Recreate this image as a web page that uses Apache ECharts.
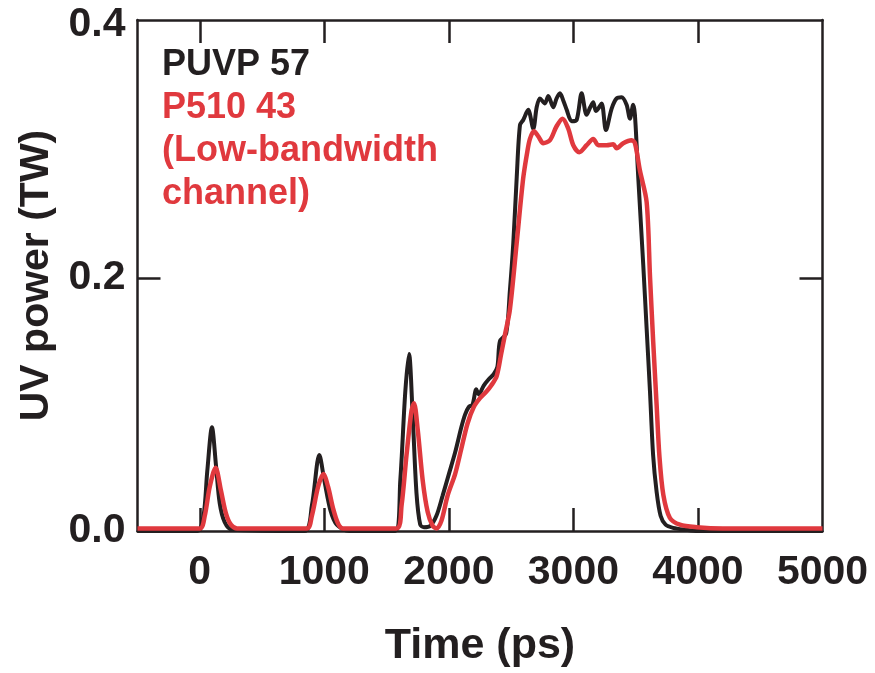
<!DOCTYPE html>
<html>
<head>
<meta charset="utf-8">
<script src="https://cdn.jsdelivr.net/npm/echarts@6/dist/echarts.min.js"></script>
<style>html,body{margin:0;padding:0;background:#fff}#c{width:875px;height:673px}</style>
</head>
<body>
<div id="c"></div>
<script>
// ---- data (time in ps, power in TW) ----
var puvpTime = [-500,-20,30,60,98,130,160,200,260,840,900,960,1000,1050,1100,1200,1570,1610,1650,1680,1710,1740,1770,1800,1850,1900,1950,2000,2050,2100,2130,2160,2190,2220,2240,2280,2320,2360,2390,2410,2460,2490,2517,2545,2571,2597,2637,2678,2705,2731,2771,2798,2838,2865,2892,2920,2946,2986,3026,3066,3106,3135,3159,3180,3200,3227,3261,3307,3347,3387,3427,3454,3480,3494,3521,3561,3588,3615,3640,3668,3700,3740,3800,3900,4000,5000];
var puvpPower = [0,0,0.012,0.047,0.082,0.052,0.022,0.007,0.001,0,0.02,0.06,0.04,0.016,0.005,0,0,0.04,0.11,0.14,0.09,0.03,0.005,0.003,0.004,0.012,0.028,0.045,0.062,0.082,0.092,0.098,0.1,0.112,0.108,0.115,0.12,0.124,0.13,0.15,0.156,0.19,0.227,0.28,0.321,0.325,0.333,0.318,0.335,0.342,0.338,0.344,0.335,0.342,0.346,0.34,0.333,0.324,0.325,0.346,0.329,0.335,0.339,0.332,0.334,0.338,0.317,0.334,0.342,0.343,0.337,0.326,0.337,0.329,0.279,0.21,0.16,0.11,0.06,0.031,0.012,0.005,0.0025,0.001,0,0];
var p510Time = [-500,0,40,80,127,170,210,250,300,860,900,950,992,1030,1070,1110,1150,1580,1620,1660,1700,1720,1750,1790,1830,1870,1902,1940,1990,2050,2100,2150,2200,2250,2300,2340,2384,2420,2450,2490,2544,2597,2630,2651,2683,2718,2758,2812,2865,2913,2959,2999,3047,3106,3159,3200,3267,3320,3347,3400,3467,3494,3534,3588,3615,3641,3668,3690,3722,3775,3855,3989,4200,5000];
var p510Power = [0.002,0.002,0.012,0.035,0.05,0.032,0.014,0.005,0.002,0.002,0.012,0.035,0.045,0.035,0.018,0.006,0.002,0.002,0.02,0.06,0.095,0.101,0.08,0.04,0.015,0.004,0.002,0.008,0.028,0.045,0.065,0.085,0.098,0.105,0.11,0.115,0.1225,0.14,0.155,0.175,0.227,0.279,0.3,0.31,0.316,0.312,0.3066,0.309,0.32,0.326,0.318,0.305,0.2995,0.305,0.31,0.305,0.305,0.3057,0.3026,0.3066,0.309,0.3066,0.285,0.26,0.201,0.149,0.1,0.06,0.0286,0.0103,0.005,0.003,0.002,0.002];
var xTicks = [0,1000,2000,3000,4000,5000];
var yTicks = [0.0,0.2,0.4];
var legendLines = ['PUVP 57','P510 43','(Low-bandwidth','channel)'];

var BLACK = '#231f20', RED = '#e0393e';
var FONT = '"Liberation Sans", Arial, Helvetica, sans-serif';

function pairs(t, v){ return t.map(function(x,i){ return [x, v[i]]; }); }

var chart = echarts.init(document.getElementById('c'), null, {renderer:'canvas'});
var axisLine = {show:true, onZero:false, lineStyle:{color:BLACK, width:2.5}};
function tick(vals){ return {show:true, inside:true, length:23, customValues:vals, lineStyle:{color:BLACK, width:2.5}}; }
var xTickVals = xTicks.slice(0, xTicks.length-1);
var yTickVals = yTicks.slice(0, yTicks.length-1);
var xLabel = {show:true, fontFamily:FONT, fontWeight:'bold', fontSize:41, color:BLACK, margin:21,
  customValues:xTicks, formatter:function(v){ return String(v); }};
var yLabel = {show:true, fontFamily:FONT, fontWeight:'bold', fontSize:41, color:BLACK, margin:12,
  customValues:yTicks, formatter:function(v){ return v.toFixed(1); }};

chart.setOption({
  animation:false,
  grid:{left:137.5, right:52.5, top:20, bottom:136.5, containLabel:false},
  xAxis:[
    {type:'value', min:-500, max:5000, position:'bottom',
     axisLine:axisLine, axisTick:tick(xTickVals), axisLabel:xLabel, splitLine:{show:false},
     name:'Time (ps)', nameLocation:'middle', nameGap:94,
     nameTextStyle:{fontFamily:FONT, fontWeight:'bold', fontSize:43, color:BLACK}},
    {type:'value', min:-500, max:5000, position:'top',
     axisLine:axisLine, axisTick:tick(xTickVals), axisLabel:{show:false}, splitLine:{show:false}}
  ],
  yAxis:[
    {type:'value', min:0, max:0.404, position:'left',
     axisLine:axisLine, axisTick:tick(yTickVals), axisLabel:yLabel, splitLine:{show:false},
     name:'UV power (TW)', nameLocation:'middle', nameGap:78, nameRotate:90,
     nameTextStyle:{fontFamily:FONT, fontWeight:'bold', fontSize:41, color:BLACK}},
    {type:'value', min:0, max:0.404, position:'right',
     axisLine:axisLine, axisTick:tick(yTickVals), axisLabel:{show:false}, splitLine:{show:false}}
  ],
  series:[
    {type:'line', name:'PUVP 57', data:pairs(puvpTime,puvpPower), showSymbol:false, smooth:0.3,
     lineStyle:{color:BLACK, width:4}, z:2},
    {type:'line', name:'P510 43', data:pairs(p510Time,p510Power), showSymbol:false, smooth:0.3,
     lineStyle:{color:RED, width:4.5}, z:3}
  ],
  graphic:[
    {type:'text', left:162, top:47.5, style:{text:legendLines[0], fill:BLACK, font:'bold 36px '+FONT}},
    {type:'text', left:162, top:90.5, style:{text:legendLines[1], fill:RED, font:'bold 36px '+FONT}},
    {type:'text', left:162, top:133.5, style:{text:legendLines[2], fill:RED, font:'bold 36px '+FONT}},
    {type:'text', left:162, top:176.5, style:{text:legendLines[3], fill:RED, font:'bold 36px '+FONT}}
  ]
});
</script>
</body>
</html>
